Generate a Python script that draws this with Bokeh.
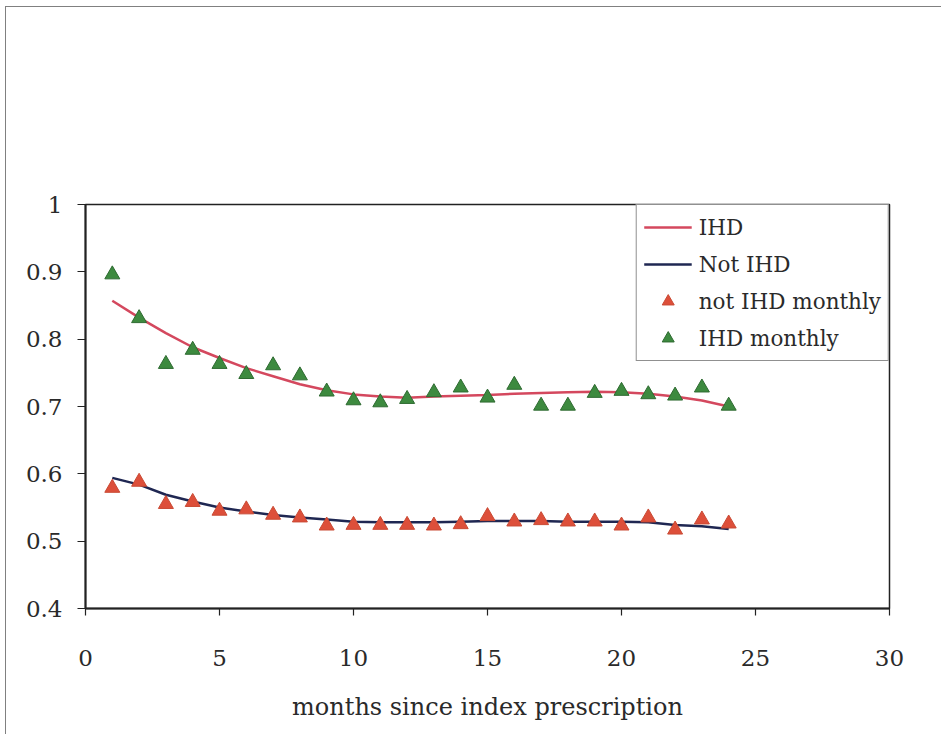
from bokeh.plotting import figure
from bokeh.models import Range1d, FixedTicker, Legend, LegendItem
from bokeh.embed import file_html
from bokeh.resources import INLINE

months = list(range(1, 25))
ihd_monthly = [0.896, 0.831, 0.763, 0.784, 0.763, 0.748, 0.761, 0.746, 0.722, 0.709, 0.706, 0.711,
               0.721, 0.728, 0.713, 0.732, 0.701, 0.701, 0.720, 0.723, 0.718, 0.716, 0.728, 0.701]
not_ihd_monthly = [0.579, 0.588, 0.555, 0.558, 0.545, 0.547, 0.539, 0.535, 0.523, 0.524, 0.524, 0.524,
                   0.523, 0.525, 0.537, 0.529, 0.531, 0.529, 0.529, 0.523, 0.535, 0.517, 0.532, 0.526]
ihd_trend = [0.857, 0.832, 0.809, 0.788, 0.772, 0.757, 0.745, 0.733, 0.724, 0.718, 0.715, 0.713,
             0.715, 0.716, 0.717, 0.719, 0.720, 0.721, 0.722, 0.721, 0.719, 0.715, 0.709, 0.700]
not_ihd_trend = [0.594, 0.584, 0.569, 0.559, 0.550, 0.544, 0.539, 0.535, 0.532, 0.529, 0.528, 0.528,
                 0.528, 0.529, 0.530, 0.530, 0.530, 0.529, 0.529, 0.529, 0.528, 0.524, 0.522, 0.518]
x_ticks = [0, 5, 10, 15, 20, 25, 30]
y_ticks = [0.4, 0.5, 0.6, 0.7, 0.8, 0.9, 1.0]
y_tick_labels = ["0.4", "0.5", "0.6", "0.7", "0.8", "0.9", "1"]
x_title = "months since index prescription"

FONT = "DejaVu Serif"
TXT = "#2a2a2a"

p = figure(width=936, height=728, output_backend="svg", toolbar_location=None,
           x_range=Range1d(0, 30), y_range=Range1d(0.4, 1.0))
p.margin = (6, 0, 0, 5)
p.styles = {"border-left": "1px solid #808080", "border-top": "1px solid #808080"}
p.min_border_left = 79
p.min_border_right = 53
p.min_border_top = 197
p.min_border_bottom = 127
p.background_fill_color = "white"
p.border_fill_color = "white"
p.outline_line_color = "#222222"
p.outline_line_width = 1.5
p.xgrid.visible = False
p.ygrid.visible = False

p.xaxis.ticker = FixedTicker(ticks=x_ticks)
p.yaxis.ticker = FixedTicker(ticks=y_ticks)
p.yaxis.major_label_overrides = {t: l for t, l in zip(y_ticks, y_tick_labels)}
for ax in (p.xaxis, p.yaxis):
    ax.axis_line_color = "#222222"
    ax.axis_line_width = 2
    ax.major_tick_line_color = "#222222"
    ax.major_tick_line_width = 1.2
    ax.major_tick_in = 0
    ax.minor_tick_line_color = None
    ax.major_label_text_font = FONT
    ax.major_label_text_font_size = "23px"
    ax.major_label_text_color = TXT
p.xaxis.major_tick_out = 7
p.yaxis.major_tick_out = 8
p.xaxis.major_label_standoff = 34
p.yaxis.major_label_standoff = 15
p.xaxis.axis_label = x_title
p.xaxis.axis_label_text_font = FONT
p.xaxis.axis_label_text_font_size = "24px"
p.xaxis.axis_label_text_font_style = "normal"
p.xaxis.axis_label_text_color = TXT
p.xaxis.axis_label_standoff = 24

r_ihd = p.line(months, ihd_trend, line_color="#d4485e", line_width=2.5)
r_not = p.line(months, not_ihd_trend, line_color="#1f2752", line_width=2.5)
r_nm = p.scatter(months, not_ihd_monthly, marker="triangle", size=15,
                 fill_color="#dd4f3a", line_color="#c94a34", line_width=1)
r_im = p.scatter(months, ihd_monthly, marker="triangle", size=15,
                 fill_color="#3d8a3f", line_color="#2e6a31", line_width=1)

legend = Legend(items=[
    LegendItem(label="IHD", renderers=[r_ihd]),
    LegendItem(label="Not IHD", renderers=[r_not]),
    LegendItem(label="not IHD monthly", renderers=[r_nm]),
    LegendItem(label="IHD monthly", renderers=[r_im]),
], location="top_right")
legend.margin = 0
legend.padding = 7
legend.spacing = 7
legend.glyph_width = 48
legend.glyph_height = 30
legend.label_height = 30
legend.label_standoff = 7
legend.label_text_font = FONT
legend.label_text_font_size = "21.5px"
legend.label_text_color = TXT
legend.border_line_color = "#222222"
legend.border_line_width = 1.2
legend.background_fill_color = "white"
legend.background_fill_alpha = 1
p.add_layout(legend, "center")

open("out.html", "w").write(file_html(p, INLINE))
